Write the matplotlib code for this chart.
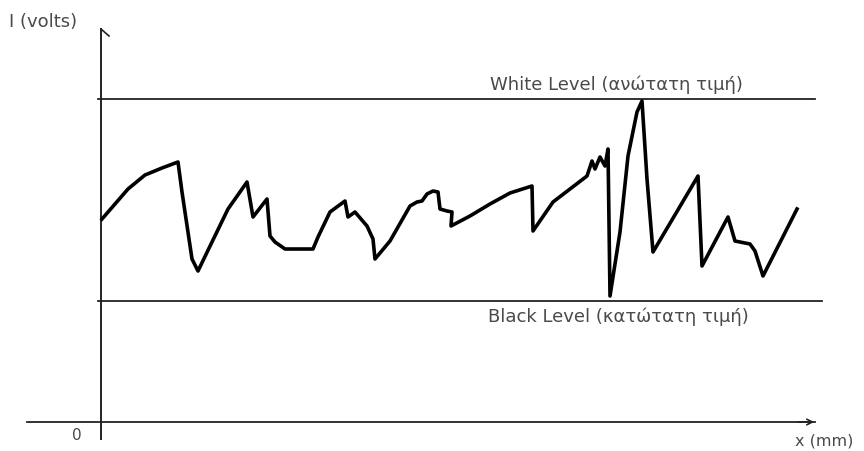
import matplotlib.pyplot as plt
import numpy as np

# signal trace, x in mm from the I axis, I in volts above the x axis
x_mm = [1, 14, 27, 44, 61, 77, 81, 91, 97, 111, 127, 146, 152, 166, 169, 174, 184,
        212, 217, 229, 244, 247, 254, 266, 272, 274, 289, 309, 316, 321, 326, 332,
        337, 339, 346, 351, 350, 369, 389, 409, 431, 432, 452, 486, 491, 494, 499,
        504, 507, 509, 519, 527, 536, 541, 546, 552, 597, 601, 627, 634, 649, 654,
        662, 696]
i_volts = [203, 218, 233, 247, 254, 260, 230, 163, 151, 180, 213, 240, 205, 223, 186,
           180, 173, 173, 185, 210, 221, 205, 210, 196, 183, 163, 181, 216, 220, 221,
           228, 231, 230, 213, 211, 210, 196, 206, 218, 229, 236, 191, 220, 246, 261,
           253, 265, 256, 273, 126, 190, 266, 310, 321, 243, 170, 246, 156, 205, 181,
           178, 171, 146, 213]

white_level = 323
black_level = 121
x_end = 714

fig = plt.figure(figsize=(8.64, 4.52), dpi=100)
ax = fig.add_axes([0, 0, 1, 1])
ax.set_xlim(-101, 763)
ax.set_ylim(-29, 423)
ax.axis("off")

txt = "#4a4a4a"

# axes
ax.plot([-74, x_end], [0, 0], color="#222222", lw=1.3)
ax.annotate("", xy=(x_end + 2, 0), xytext=(x_end - 20, 0),
            arrowprops=dict(arrowstyle="->", color="#222222", lw=1.2))
ax.plot([0, 0], [-17, 393], color="#222222", lw=1.4)
ax.plot([0, 8], [393, 386], color="#222222", lw=1.2)

# levels
ax.plot([-3, x_end], [white_level, white_level], color="#222222", lw=1.3)
ax.plot([-3, 721], [black_level, black_level], color="#222222", lw=1.3)

# signal
ax.plot(x_mm, i_volts, color="black", lw=2.6, solid_joinstyle="round")

ax.text(389, white_level + 6, "White Level (ανώτατη τιμή)", color=txt,
        fontsize=13, ha="left", va="bottom")
ax.text(387, black_level - 6, "Black Level (κατώτατη τιμή)", color=txt,
        fontsize=13, ha="left", va="top")
ax.text(-92, 401, "I (volts)", color=txt, fontsize=13, ha="left", va="center")
ax.text(-24, -13, "0", color=txt, fontsize=11, ha="center", va="center")
ax.text(694, -18, "x (mm)", color=txt, fontsize=11.5, ha="left", va="center")

fig.savefig("out.png", dpi=100, facecolor="white")
